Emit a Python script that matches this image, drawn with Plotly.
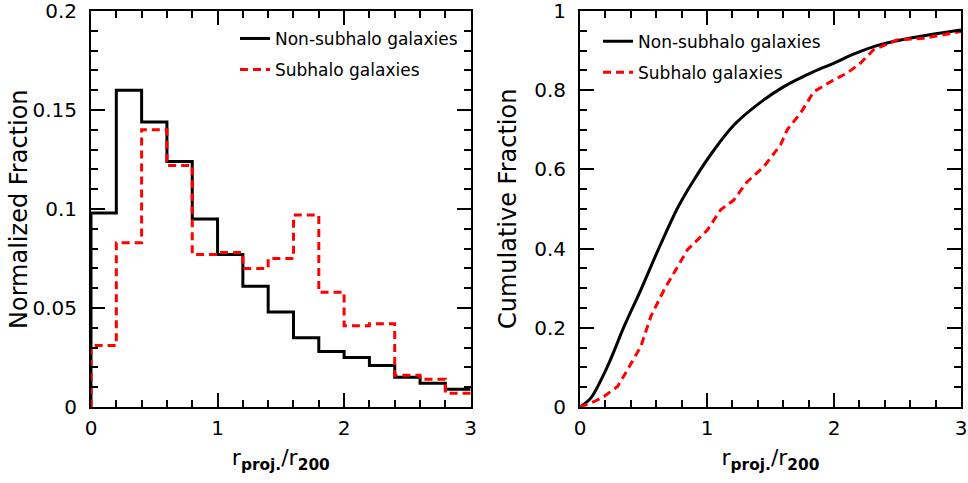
import plotly.graph_objects as go

# ---------------- data ----------------
bin_edges = [0.0, 0.2, 0.4, 0.6, 0.8, 1.0, 1.2, 1.4, 1.6, 1.8, 2.0, 2.2, 2.4, 2.6, 2.8, 3.0]
hist_nonsub = [0.098, 0.160, 0.144, 0.124, 0.095, 0.077, 0.061, 0.048, 0.035, 0.028,
               0.025, 0.021, 0.015, 0.012, 0.009]
hist_sub = [0.031, 0.083, 0.140, 0.122, 0.077, 0.078, 0.070, 0.075, 0.097, 0.058,
            0.041, 0.042, 0.016, 0.014, 0.007]

cum_nonsub_x = [0.0, 0.086, 0.217, 0.348, 0.479, 0.61, 0.767, 0.898, 1.055, 1.212,
                1.395, 1.605, 1.840, 1.997, 2.154, 2.364, 2.626, 3.0]
cum_nonsub_y = [0.0, 0.023, 0.103, 0.204, 0.296, 0.393, 0.502, 0.574, 0.649, 0.712,
                0.763, 0.809, 0.847, 0.868, 0.891, 0.915, 0.933, 0.952]

cum_sub_x = [0.0, 0.113, 0.191, 0.296, 0.374, 0.479, 0.505, 0.558, 0.662, 0.767, 0.846,
             1.003, 1.107, 1.212, 1.317, 1.448, 1.579, 1.631, 1.736, 1.840, 1.997,
             2.102, 2.207, 2.312, 2.495, 2.704, 3.0]
cum_sub_y = [0.0, 0.014, 0.027, 0.052, 0.094, 0.153, 0.178, 0.229, 0.296, 0.355, 0.397,
             0.447, 0.498, 0.523, 0.569, 0.607, 0.662, 0.700, 0.742, 0.796, 0.826,
             0.843, 0.868, 0.902, 0.927, 0.931, 0.948]

hist_yticks = [0, 0.05, 0.1, 0.15, 0.2]
hist_yticklabels = ["0", "0.05", "0.1", "0.15", "0.2"]
cum_yticks = [0, 0.2, 0.4, 0.6, 0.8, 1.0]
cum_yticklabels = ["0", "0.2", "0.4", "0.6", "0.8", "1"]

label_nonsub = "Non-subhalo galaxies"
label_sub = "Subhalo galaxies"
ytitle_hist = "Normalized Fraction"
ytitle_cum = "Cumulative Fraction"
xtitle_text = "r<sub><b>proj.</b></sub>/r<sub><b>200</b></sub>"

# ---------------- figure ----------------
FONT = "DejaVu Sans"
fig = go.Figure()


def step_xy(edges, vals):
    xs = [edges[0]] + list(edges)
    ys = [0.0] + list(vals) + [vals[-1]]
    return xs, ys


xs, ys = step_xy(bin_edges, hist_nonsub)
fig.add_trace(go.Scatter(x=xs, y=ys, mode="lines", line=dict(color="black", width=3, shape="hv"),
                         name=label_nonsub, legend="legend", legendgroup="a",
                         xaxis="x", yaxis="y"))
xs, ys = step_xy(bin_edges, hist_sub)
fig.add_trace(go.Scatter(x=xs, y=ys, mode="lines",
                         line=dict(color="#ff0000", width=3, shape="hv", dash="8px,5px"),
                         name=label_sub, legend="legend", legendgroup="b",
                         xaxis="x", yaxis="y"))

fig.add_trace(go.Scatter(x=cum_nonsub_x, y=cum_nonsub_y, mode="lines",
                         line=dict(color="black", width=3, shape="spline", smoothing=0.8),
                         name=label_nonsub, legend="legend2", legendgroup="c",
                         xaxis="x2", yaxis="y2"))
fig.add_trace(go.Scatter(x=cum_sub_x, y=cum_sub_y, mode="lines",
                         line=dict(color="#ff0000", width=3, dash="8px,5px"),
                         name=label_sub, legend="legend2", legendgroup="d",
                         xaxis="x2", yaxis="y2"))

axis_common = dict(
    showline=True, linecolor="black", linewidth=2, mirror="ticks",
    ticks="inside", ticklen=14, tickwidth=2, tickcolor="black",
    showgrid=False, zeroline=False, ticklabeloverflow="allow", automargin=False,
    tickfont=dict(family=FONT, size=20, color="black"),
)
minor_x = dict(dtick=0.2, ticklen=7, tickwidth=2, ticks="inside", tickcolor="black")

xtitle = dict(text=xtitle_text, font=dict(family=FONT, size=22, color="black"), standoff=11)

legend_common = dict(xanchor="left", yanchor="top", bgcolor="rgba(0,0,0,0)",
                     font=dict(family=FONT, size=17, color="black"), tracegroupgap=6,
                     itemwidth=30)

fig.update_layout(
    width=968, height=483,
    paper_bgcolor="white", plot_bgcolor="white",
    margin=dict(l=91, r=7, t=11, b=76, autoexpand=False),
    showlegend=True,
    xaxis=dict(domain=[0, 0.4364], range=[0, 3], dtick=1, anchor="y", minor=minor_x,
               ticklabelstandoff=2, title=xtitle, **axis_common),
    yaxis=dict(domain=[0, 1], range=[0, 0.2], anchor="x",
               tickmode="array", tickvals=hist_yticks, ticktext=hist_yticklabels,
               minor=dict(tickmode="linear", tick0=0, dtick=0.01, ticklen=7, tickwidth=2,
                          ticks="inside", tickcolor="black"),
               ticklabelstandoff=8, **axis_common),
    xaxis2=dict(domain=[0.5621, 1], range=[0, 3], dtick=1, anchor="y2", minor=minor_x,
                ticklabelstandoff=2, title=xtitle, **axis_common),
    yaxis2=dict(domain=[0, 1], range=[0, 1], anchor="x2",
                tickmode="array", tickvals=cum_yticks, ticktext=cum_yticklabels,
                minor=dict(tickmode="linear", tick0=0, dtick=0.05, ticklen=7, tickwidth=2,
                           ticks="inside", tickcolor="black"),
                ticklabelstandoff=8, **axis_common),
    legend=dict(x=0.1655, y=0.975, **legend_common),
    legend2=dict(x=0.5828, y=0.968, **legend_common),
    annotations=[
        dict(text=ytitle_hist, xref="paper", yref="paper", x=-0.0828, y=0.5,
             xanchor="center", yanchor="middle", textangle=-90, showarrow=False,
             font=dict(family=FONT, size=24, color="black")),
        dict(text=ytitle_cum, xref="paper", yref="paper", x=0.4793, y=0.5,
             xanchor="center", yanchor="middle", textangle=-90, showarrow=False,
             font=dict(family=FONT, size=24, color="black")),
    ],
)

fig.write_html("out.html")
